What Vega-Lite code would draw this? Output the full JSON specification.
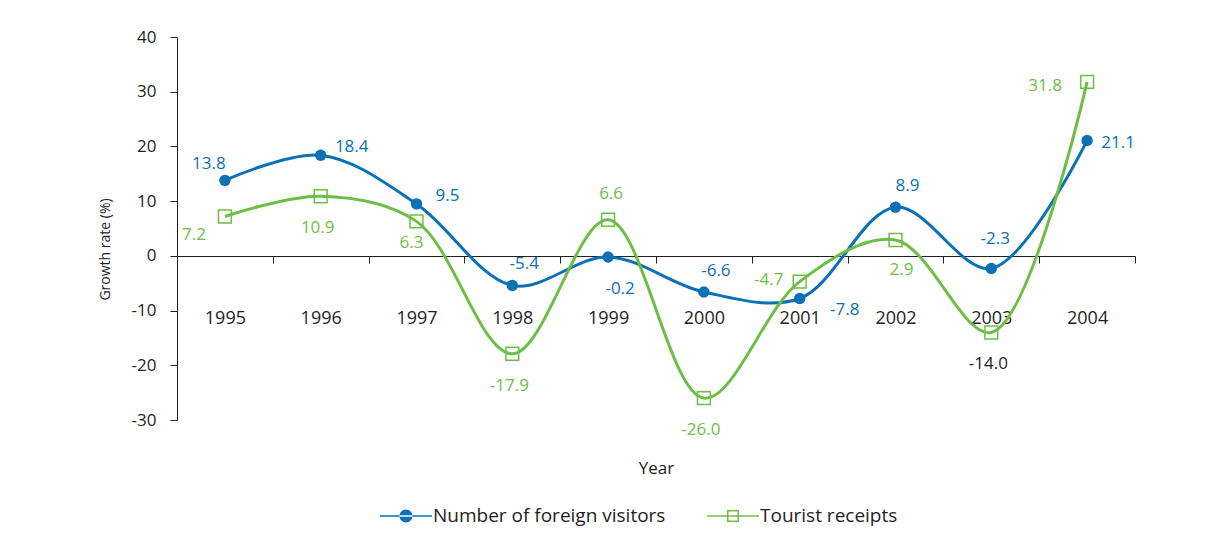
{
  "$schema": "https://vega.github.io/schema/vega-lite/v6.json",
  "width": 958,
  "height": 383,
  "autosize": "none",
  "padding": {"left": 177, "top": 37, "right": 75, "bottom": 122},
  "background": "white",
  "config": {
    "view": {"stroke": null},
    "font": "Open Sans",
    "locale": {"number": {"decimal": ".", "thousands": ",", "grouping": [3], "currency": ["$", ""], "minus": "-"}},
    "axis": {
      "domainColor": "#231f20", "tickColor": "#231f20", "labelColor": "#231f20", "titleColor": "#231f20",
      "grid": false, "labelFont": "Open Sans", "titleFont": "Open Sans", "titleFontWeight": "normal", "domainWidth": 1, "tickWidth": 1
    }
  },
  "data": {
    "values": [
      {"year": "1995", "series": "Number of foreign visitors", "value": 13.8},
      {"year": "1996", "series": "Number of foreign visitors", "value": 18.4},
      {"year": "1997", "series": "Number of foreign visitors", "value": 9.5},
      {"year": "1998", "series": "Number of foreign visitors", "value": -5.4},
      {"year": "1999", "series": "Number of foreign visitors", "value": -0.2},
      {"year": "2000", "series": "Number of foreign visitors", "value": -6.6},
      {"year": "2001", "series": "Number of foreign visitors", "value": -7.8},
      {"year": "2002", "series": "Number of foreign visitors", "value": 8.9},
      {"year": "2003", "series": "Number of foreign visitors", "value": -2.3},
      {"year": "2004", "series": "Number of foreign visitors", "value": 21.1},
      {"year": "1995", "series": "Tourist receipts", "value": 7.2},
      {"year": "1996", "series": "Tourist receipts", "value": 10.9},
      {"year": "1997", "series": "Tourist receipts", "value": 6.3},
      {"year": "1998", "series": "Tourist receipts", "value": -17.9},
      {"year": "1999", "series": "Tourist receipts", "value": 6.6},
      {"year": "2000", "series": "Tourist receipts", "value": -26.0},
      {"year": "2001", "series": "Tourist receipts", "value": -4.7},
      {"year": "2002", "series": "Tourist receipts", "value": 2.9},
      {"year": "2003", "series": "Tourist receipts", "value": -14.0},
      {"year": "2004", "series": "Tourist receipts", "value": 31.8}
    ]
  },
  "encoding": {
    "x": {
      "field": "year", "type": "ordinal", "bandPosition": 0.5,
      "scale": {"type": "band", "paddingInner": 0, "paddingOuter": 0},
      "axis": {
        "title": "Year", "orient": "bottom", "offset": -164, "tickSize": 7, "tickBand": "extent",
        "labelAngle": 0, "labelPadding": 46, "labelFontSize": 18, "labelBaseline": "top",
        "titleFontSize": 17, "titlePadding": 133
      }
    },
    "y": {
      "field": "value", "type": "quantitative",
      "scale": {"domain": [-30, 40], "nice": false, "zero": false},
      "axis": {
        "values": [-30, -20, -10, 0, 10, 20, 30, 40], "tickSize": 7, "labelPadding": 14, "labelFontSize": 17,
        "title": "Growth rate (%)", "titleFontSize": 14, "titleX": -72, "titleY": 212,
        "titleAngle": 270, "titleAlign": "center", "titleBaseline": "middle"
      }
    }
  },
  "layer": [
    {
      "mark": {"type": "line", "interpolate": "catmull-rom", "strokeWidth": 3},
      "encoding": {
        "color": {
          "field": "series", "type": "nominal",
          "scale": {"domain": ["Number of foreign visitors", "Tourist receipts"], "range": ["#0a71b6", "#6dbe45"]},
          "legend": {
            "orient": "none", "legendX": 203, "legendY": 453, "direction": "horizontal", "title": null,
            "labelFontSize": 19, "labelColor": "#231f20", "labelFont": "Open Sans", "labelLimit": 0,
            "symbolSize": 2704, "symbolStrokeWidth": 0, "labelOffset": 1, "columnPadding": 41, "padding": 0,
            "encode": {
              "symbols": {
                "update": {
                  "shape": {"signal": "datum.value === 'Tourist receipts' ? 'M-1,-0.029H1V0.029H-1ZM-0.23,-0.23H0.23V0.23H-0.23ZM-0.172,-0.172V0.172H0.172V-0.172Z' : 'M-1,-0.029H1V0.029H-1ZM-0.25,0A0.25,0.25,0,1,0,0.25,0A0.25,0.25,0,1,0,-0.25,0Z'"},
                  "fill": {"signal": "datum.value === 'Tourist receipts' ? '#6dbe45' : '#0a71b6'"},
                  "fillOpacity": {"value": 1},
                  "strokeWidth": {"value": 0}
                }
              }
            }
          }
        }
      }
    },
    {
      "transform": [{"filter": "datum.series === 'Number of foreign visitors'"}],
      "mark": {"type": "point", "shape": "circle", "filled": true, "size": 130, "color": "#0a71b6", "opacity": 1}
    },
    {
      "transform": [{"filter": "datum.series === 'Tourist receipts'"}],
      "mark": {"type": "point", "shape": "square", "filled": false, "size": 165, "strokeWidth": 1.5, "color": "#6dbe45", "opacity": 1}
    },
    {
      "transform": [{"filter": "datum.series === 'Number of foreign visitors' && indexof(['1998','2000','2002'], datum.year) >= 0"}],
      "mark": {"type": "text", "dx": 12, "dy": -21, "fontSize": 17, "color": "#0a71b6"},
      "encoding": {"text": {"field": "value", "type": "quantitative", "format": ".1f"}}
    },
    {
      "transform": [{"filter": "datum.series === 'Number of foreign visitors' && indexof(['1996','1997'], datum.year) >= 0"}],
      "mark": {"type": "text", "dx": 31, "dy": -8, "fontSize": 17, "color": "#0a71b6"},
      "encoding": {"text": {"field": "value", "type": "quantitative", "format": ".1f"}}
    },
    {
      "transform": [{"filter": "datum.series === 'Number of foreign visitors' && datum.year === '1995'"}],
      "mark": {"type": "text", "dx": -16, "dy": -16, "fontSize": 17, "color": "#0a71b6"},
      "encoding": {"text": {"field": "value", "type": "quantitative", "format": ".1f"}}
    },
    {
      "transform": [{"filter": "datum.series === 'Number of foreign visitors' && datum.year === '1999'"}],
      "mark": {"type": "text", "dx": 12, "dy": 32, "fontSize": 17, "color": "#0a71b6"},
      "encoding": {"text": {"field": "value", "type": "quantitative", "format": ".1f"}}
    },
    {
      "transform": [{"filter": "datum.series === 'Number of foreign visitors' && datum.year === '2001'"}],
      "mark": {"type": "text", "dx": 45, "dy": 11, "fontSize": 17, "color": "#0a71b6"},
      "encoding": {"text": {"field": "value", "type": "quantitative", "format": ".1f"}}
    },
    {
      "transform": [{"filter": "datum.series === 'Number of foreign visitors' && datum.year === '2003'"}],
      "mark": {"type": "text", "dx": 4, "dy": -29, "fontSize": 17, "color": "#0a71b6"},
      "encoding": {"text": {"field": "value", "type": "quantitative", "format": ".1f"}}
    },
    {
      "transform": [{"filter": "datum.series === 'Number of foreign visitors' && datum.year === '2004'"}],
      "mark": {"type": "text", "dx": 31, "dy": 3, "fontSize": 17, "color": "#0a71b6"},
      "encoding": {"text": {"field": "value", "type": "quantitative", "format": ".1f"}}
    },
    {
      "transform": [{"filter": "datum.series === 'Tourist receipts' && indexof(['1996','1998','2000'], datum.year) >= 0"}],
      "mark": {"type": "text", "dx": -3, "dy": 32, "fontSize": 17, "color": "#6dbe45"},
      "encoding": {"text": {"field": "value", "type": "quantitative", "format": ".1f"}}
    },
    {
      "transform": [{"filter": "datum.series === 'Tourist receipts' && datum.year === '1995'"}],
      "mark": {"type": "text", "dx": -31, "dy": 19, "fontSize": 17, "color": "#6dbe45"},
      "encoding": {"text": {"field": "value", "type": "quantitative", "format": ".1f"}}
    },
    {
      "transform": [{"filter": "datum.series === 'Tourist receipts' && datum.year === '1997'"}],
      "mark": {"type": "text", "dx": -5, "dy": 22, "fontSize": 17, "color": "#6dbe45"},
      "encoding": {"text": {"field": "value", "type": "quantitative", "format": ".1f"}}
    },
    {
      "transform": [{"filter": "datum.series === 'Tourist receipts' && datum.year === '1999'"}],
      "mark": {"type": "text", "dx": 3, "dy": -26, "fontSize": 17, "color": "#6dbe45"},
      "encoding": {"text": {"field": "value", "type": "quantitative", "format": ".1f"}}
    },
    {
      "transform": [{"filter": "datum.series === 'Tourist receipts' && datum.year === '2001'"}],
      "mark": {"type": "text", "dx": -31, "dy": -2, "fontSize": 17, "color": "#6dbe45"},
      "encoding": {"text": {"field": "value", "type": "quantitative", "format": ".1f"}}
    },
    {
      "transform": [{"filter": "datum.series === 'Tourist receipts' && datum.year === '2002'"}],
      "mark": {"type": "text", "dx": 6, "dy": 30, "fontSize": 17, "color": "#6dbe45"},
      "encoding": {"text": {"field": "value", "type": "quantitative", "format": ".1f"}}
    },
    {
      "transform": [{"filter": "datum.series === 'Tourist receipts' && datum.year === '2003'"}],
      "mark": {"type": "text", "dx": -3, "dy": 32, "fontSize": 17, "color": "#231f20"},
      "encoding": {"text": {"field": "value", "type": "quantitative", "format": ".1f"}}
    },
    {
      "transform": [{"filter": "datum.series === 'Tourist receipts' && datum.year === '2004'"}],
      "mark": {"type": "text", "dx": -42, "dy": 4, "fontSize": 17, "color": "#6dbe45"},
      "encoding": {"text": {"field": "value", "type": "quantitative", "format": ".1f"}}
    }
  ]
}
